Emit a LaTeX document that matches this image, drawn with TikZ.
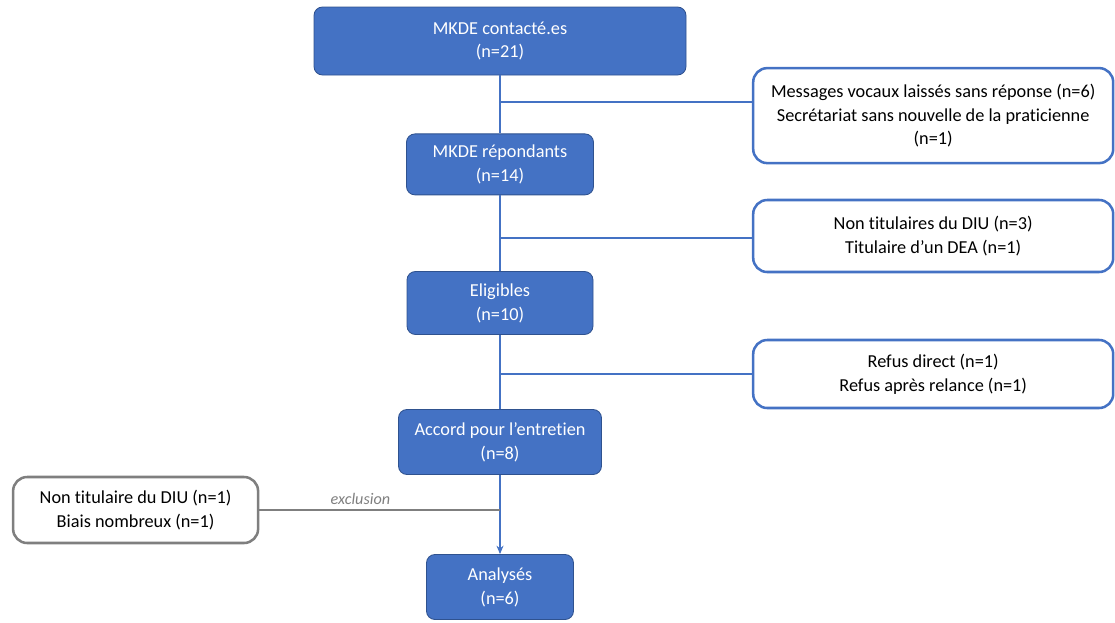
\documentclass[tikz,border=0pt]{standalone}
\usepackage{fontspec}
\setmainfont[Ligatures=NoCommon]{Carlito}
\usetikzlibrary{arrows.meta}
\definecolor{flowblue}{HTML}{4472C4}
\definecolor{flowdark}{HTML}{2F528F}
\definecolor{flowgray}{HTML}{7F7F7F}
\tikzset{
  stage/.style={draw=flowdark, fill=flowblue, text=white, rounded corners=6pt, align=center, line width=0.6pt},
  dropout/.style={draw=flowblue, fill=white, rounded corners=10pt, align=center, line width=1.8pt},
  dropgray/.style={draw=flowgray, fill=white, rounded corners=10pt, align=center, line width=1.8pt},
  link/.style={draw=flowblue, line width=0.8pt}
}
\begin{document}
\begin{tikzpicture}[>=stealth, font=\fontsize{13}{17}\selectfont]
    \useasboundingbox (0,0) rectangle (27.875,-15.55);
    \node (contact) [stage, minimum width=9.3cm, minimum height=1.7cm] at (12.5,-1.025) {MKDE contacté.es\\(n=21)};
    \node (repond) [stage, minimum width=4.675cm, minimum height=1.525cm] at (12.5,-4.11) {MKDE répondants\\(n=14)};
    \node (elig) [stage, minimum width=4.65cm, minimum height=1.575cm] at (12.5,-7.575) {Eligibles\\(n=10)};
    \node (accord) [stage, minimum width=5.075cm, minimum height=1.625cm] at (12.5,-11.05) {Accord pour l’entretien\\(n=8)};
    \node (analyse) [stage, minimum width=3.675cm, minimum height=1.625cm] at (12.5,-14.675) {Analysés\\(n=6)};
    \node (nonrep) [dropout, minimum width=9cm, minimum height=2.375cm] at (23.33,-2.89) {Messages vocaux laissés sans réponse (n=6)\\Secrétariat sans nouvelle de la praticienne\\(n=1)};
    \node (noneli) [dropout, minimum width=9cm, minimum height=1.8cm] at (23.33,-5.9) {Non titulaires du DIU (n=3)\\Titulaire d’un DEA (n=1)};
    \node (refus) [dropout, minimum width=9cm, minimum height=1.7cm] at (23.33,-9.35) {Refus direct (n=1)\\Refus après relance (n=1)};
    \node (exclu) [dropgray, minimum width=6.125cm, minimum height=1.65cm] at (3.39,-12.75) {Non titulaire du DIU (n=1)\\Biais nombreux (n=1)};
    % branch points on the main line
    \coordinate (b1) at (12.5,-2.55);
    \coordinate (b2) at (12.5,-5.95);
    \coordinate (b3) at (12.5,-9.35);
    \coordinate (b4) at (12.5,-12.75);
    \draw[link] (contact) -- (repond);
    \draw[link] (repond) -- (elig);
    \draw[link] (elig) -- (accord);
    \draw[link, -{Stealth[length=6pt,width=5pt]}] (accord) -- (analyse);
    \draw[link] (b1) -- (b1 -| nonrep.west);
    \draw[link] (b2) -- (b2 -| noneli.west);
    \draw[link] (b3) -- (b3 -| refus.west);
    \draw[draw=flowgray, line width=1.2pt] (exclu) -- (b4) node[pos=0.42, above, font=\itshape\fontsize{11.5}{13}\selectfont, text=flowgray] {exclusion};
\end{tikzpicture}
\end{document}
